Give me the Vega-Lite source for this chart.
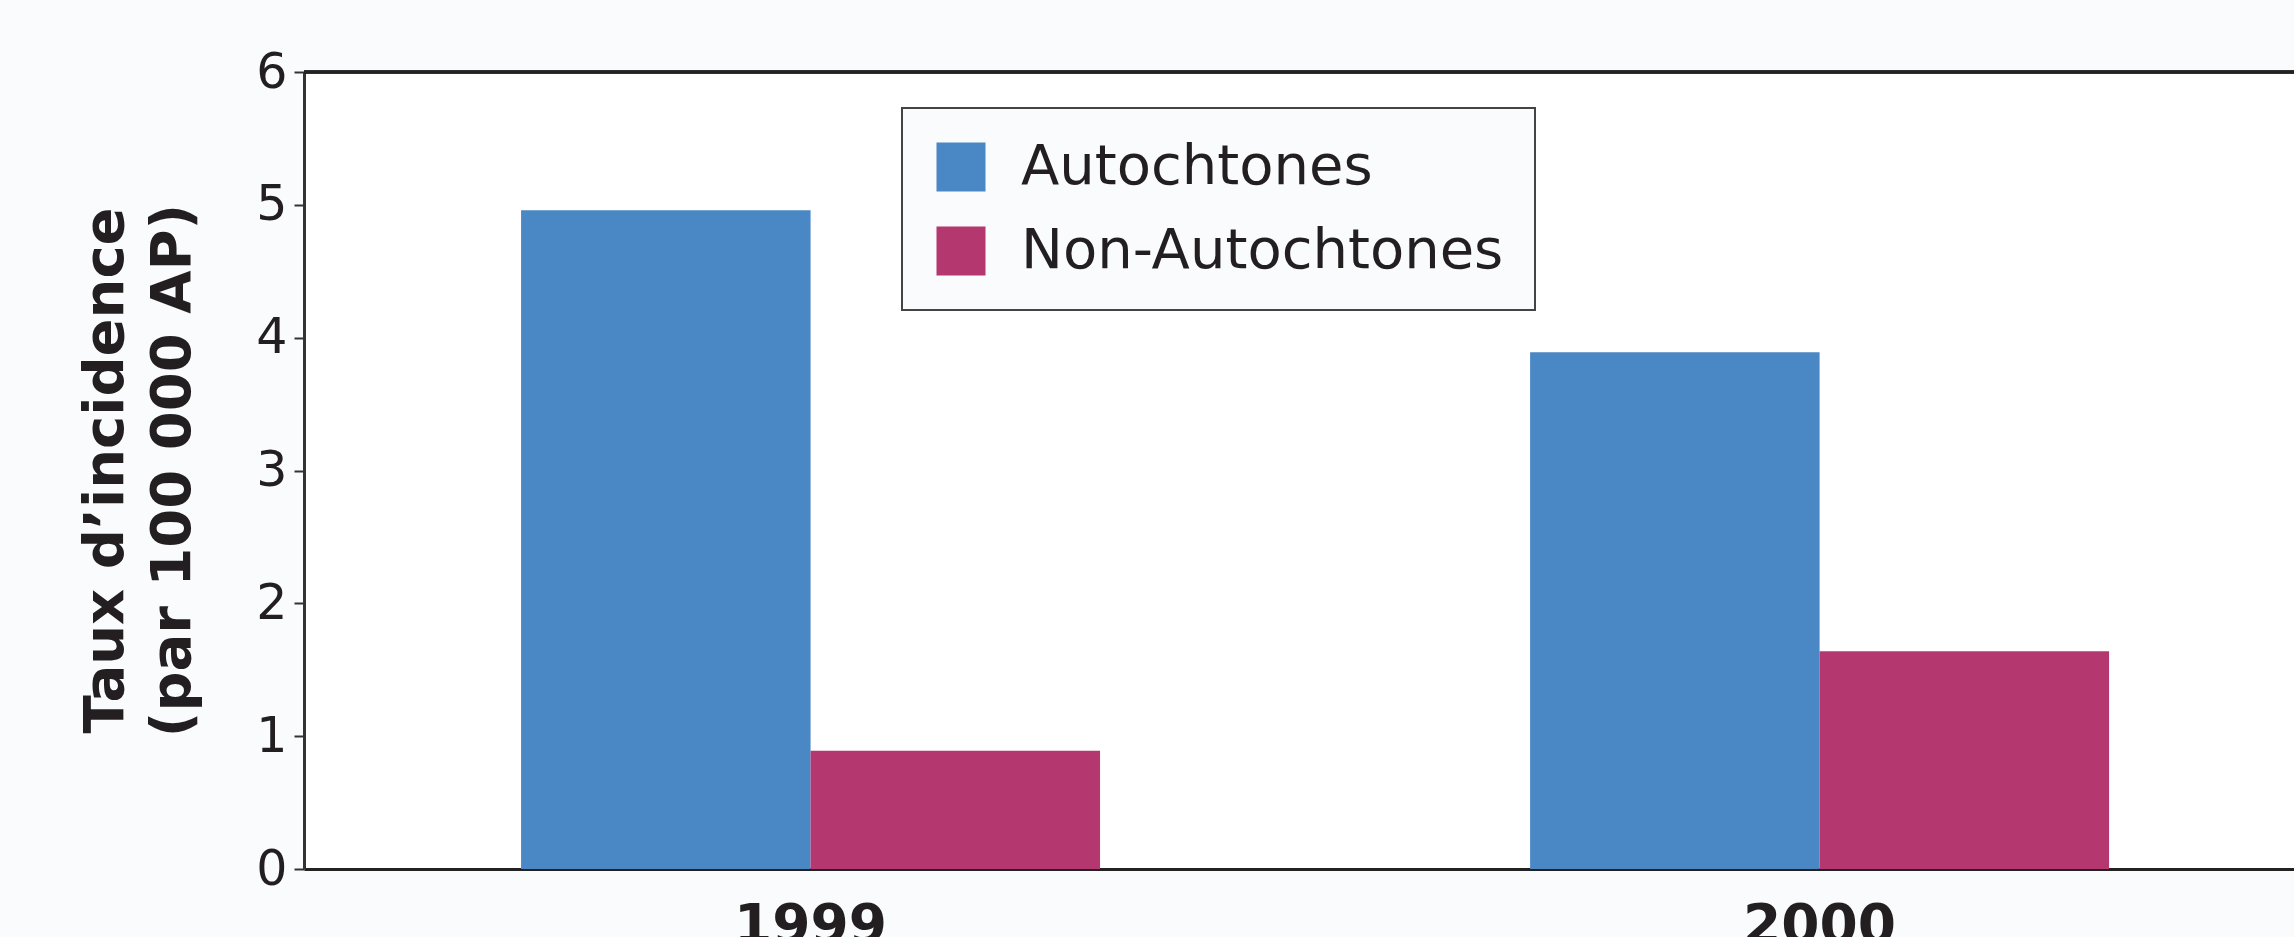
{
  "$schema": "https://vega.github.io/schema/vega-lite/v6.json",
  "autosize": {"type": "none"},
  "padding": {"left": 304, "top": 72, "right": 0, "bottom": 68},
  "width": 1990,
  "height": 797,
  "background": "#f9fbfd",
  "data": {
    "values": [
      {"annee": "1999", "groupe": "Autochtones", "taux": 4.96},
      {"annee": "1999", "groupe": "Non-Autochtones", "taux": 0.89},
      {"annee": "2000", "groupe": "Autochtones", "taux": 3.89},
      {"annee": "2000", "groupe": "Non-Autochtones", "taux": 1.64}
    ]
  },
  "layer": [
    {
      "mark": {"type": "bar"},
      "encoding": {
        "x": {
          "field": "annee",
          "type": "nominal",
          "scale": {"paddingInner": 0.4262, "paddingOuter": 0.1992, "align": 0.54},
          "axis": {
            "title": null,
            "labelAngle": 0,
            "labelFontSize": 55,
            "labelFontWeight": "bold",
            "labelColor": "#231f20",
            "ticks": false,
            "tickSize": 0,
            "labelPadding": 30,
            "domainColor": "#222222",
            "domainWidth": 3
          }
        },
        "xOffset": {"field": "groupe", "sort": ["Autochtones", "Non-Autochtones"]},
        "y": {
          "field": "taux",
          "type": "quantitative",
          "scale": {"domain": [0, 6], "nice": false},
          "axis": {
            "title": ["Taux d’incidence", "(par 100 000 AP)"],
            "titleFontSize": 56,
            "titleFontWeight": "bold",
            "titleColor": "#231f20",
            "titleAngle": -90,
            "titleAlign": "center",
            "titleBaseline": "alphabetic",
            "titleX": -182,
            "titleY": 398,
            "titleLineHeight": 67,
            "values": [0, 1, 2, 3, 4, 5, 6],
            "format": "d",
            "labelFontSize": 49,
            "labelColor": "#231f20",
            "labelPadding": 7,
            "tickSize": 10,
            "tickColor": "#333333",
            "tickWidth": 2,
            "domainColor": "#333333",
            "domainWidth": 3,
            "grid": false
          }
        },
        "color": {
          "field": "groupe",
          "type": "nominal",
          "scale": {"domain": ["Autochtones", "Non-Autochtones"], "range": ["#4a87c5", "#b53770"]},
          "legend": {
            "orient": "none",
            "legendX": 598,
            "legendY": 36,
            "title": null,
            "symbolType": "square",
            "symbolSize": 2401,
            "symbolStrokeWidth": 0,
            "symbolOpacity": 1,
            "labelFontSize": 56,
            "labelOffset": 32,
            "labelColor": "#231f20",
            "labelLimit": 1000,
            "rowPadding": 28,
            "padding": 31,
            "fillColor": "#f9fbfd",
            "strokeColor": "#444444"
          }
        }
      }
    },
    {
      "mark": {"type": "rule", "color": "#222222", "strokeWidth": 3},
      "encoding": {"y": {"datum": 6}}
    }
  ],
  "config": {
    "view": {"fill": "white", "stroke": null},
    "font": "DejaVu Sans",
    "legend": {"strokeWidth": 2}
  }
}
